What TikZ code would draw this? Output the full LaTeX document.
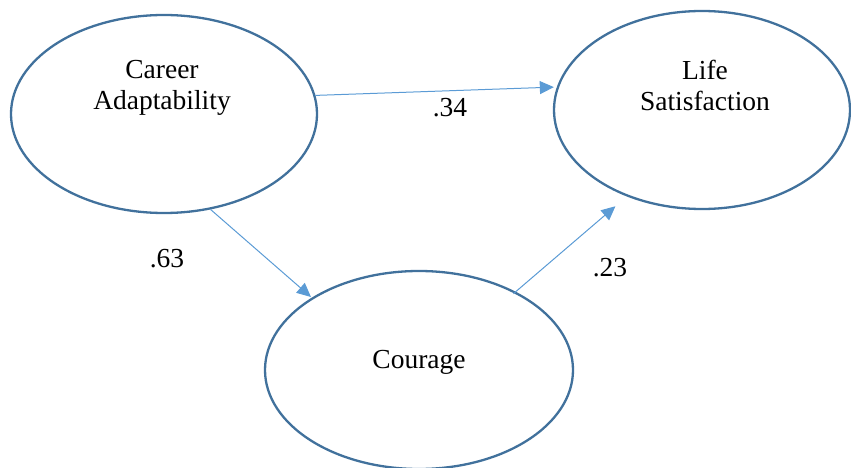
\documentclass[tikz,border=0pt]{standalone}
\usepackage{fontspec}
\setmainfont{Liberation Serif}
\newfontfamily\varfont{Liberation Serif}
\usetikzlibrary{arrows.meta,shapes.geometric}
\definecolor{ringblue}{HTML}{41719C}
\definecolor{pathblue}{HTML}{5B9BD5}

\begin{document}
\begin{tikzpicture}[x=1pt,y=-1pt,
		var/.style={draw=ringblue, line width=2.3pt, ellipse, minimum width=306pt, minimum height=198pt, inner sep=0pt},
		txt/.style={align=center, inner sep=0pt, font=\varfont\fontsize{27.5}{31}\selectfont},
		coef/.style={inner sep=0pt, font=\varfont\fontsize{27.5}{31}\selectfont},
		effect/.style={draw=pathblue, line width=1pt, -{Triangle[length=14pt,width=13pt]}}]
		\useasboundingbox (0,0) rectangle (851,468);
		\node[var] (ca) at (164,114) {};
		\node[var, minimum width=296pt] (ls) at (702,110) {};
		\node[var, minimum width=308pt] (co) at (419,370) {};
		\node[txt] (catxt) at (162,88) {Career\\Adaptability};
		\node[txt] (lstxt) at (705,85) {Life\\Satisfaction};
		\node[txt] (cotxt) at (419,362) {Courage};
		\draw[effect, shorten >=3pt] (ca.7) -- (ls.171);
		\draw[effect, shorten >=1pt] (ca.-64) -- (co.146);
		\draw[effect, shorten <=-3pt, shorten >=15pt] (co.39) -- (ls.229);
		\node[coef] (b1) at (450,108) {.34};
		\node[coef] (b2) at (167,259) {.63};
		\node[coef] (b3) at (610,268) {.23};
	\end{tikzpicture}
\end{document}
